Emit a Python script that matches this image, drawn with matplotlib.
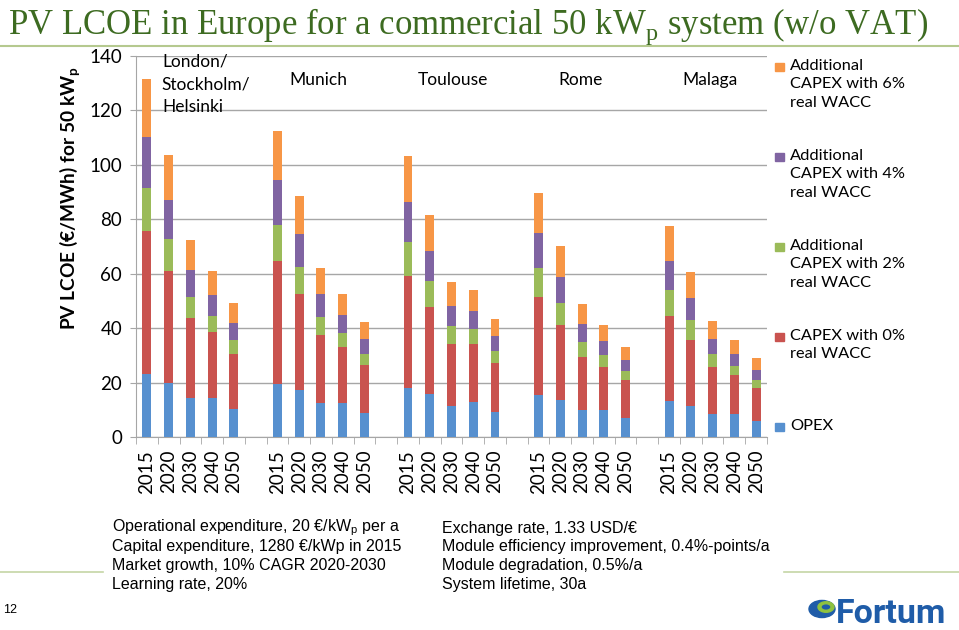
import matplotlib.pyplot as plt
import numpy as np
from matplotlib.patches import Rectangle, Circle, Wedge
from matplotlib.lines import Line2D

# data (EUR/MWh), stacked from bottom to top
cities = ['London/\nStockholm/\nHelsinki', 'Munich', 'Toulouse', 'Rome', 'Malaga']
years = ['2015', '2020', '2030', '2040', '2050']

opex = [[23.2, 20.1, 14.6, 14.6, 10.4],
        [19.5, 17.3, 12.5, 12.5, 9.0],
        [18.1, 15.9, 11.6, 12.9, 9.3],
        [15.6, 13.7, 10.0, 10.0, 7.1],
        [13.5, 11.6, 8.5, 8.5, 6.1]]
capex0 = [[52.4, 40.9, 29.2, 23.9, 20.3],
          [45.1, 35.2, 24.9, 20.5, 17.5],
          [41.0, 32.1, 22.6, 21.3, 17.9],
          [35.8, 27.6, 19.5, 15.9, 13.8],
          [30.9, 24.0, 17.2, 14.2, 11.9]]
add2 = [[16.0, 11.9, 7.8, 6.1, 5.2],
        [13.5, 10.1, 6.9, 5.3, 4.1],
        [12.5, 9.5, 6.5, 5.5, 4.5],
        [10.7, 8.0, 5.4, 4.4, 3.3],
        [9.5, 7.3, 4.8, 3.6, 3.0]]
add4 = [[18.6, 14.3, 9.9, 7.7, 6.1],
        [16.2, 12.2, 8.4, 6.5, 5.4],
        [14.7, 11.0, 7.4, 6.7, 5.5],
        [13.0, 9.7, 6.6, 4.9, 4.1],
        [11.0, 8.3, 5.7, 4.4, 3.6]]
add6 = [[21.5, 16.3, 10.9, 8.7, 7.3],
        [18.3, 13.8, 9.4, 7.7, 6.2],
        [16.8, 13.1, 8.9, 7.8, 6.4],
        [14.5, 11.1, 7.5, 6.2, 5.0],
        [12.7, 9.5, 6.6, 5.2, 4.4]]

series = [opex, capex0, add2, add4, add6]
series_labels = ['OPEX', 'CAPEX with 0%\nreal WACC',
                 'Additional\nCAPEX with 2%\nreal WACC',
                 'Additional\nCAPEX with 4%\nreal WACC',
                 'Additional\nCAPEX with 6%\nreal WACC']
colors = ['#5790cf', '#c9534f', '#9bbb59', '#8064a2', '#f79646']

notes_left = ['Operational expenditure, 20 €/kW$_\\mathregular{p}$ per a',
              'Capital expenditure, 1280 €/kWp in 2015',
              'Market growth, 10% CAGR 2020-2030',
              'Learning rate, 20%']
notes_right = ['Exchange rate, 1.33 USD/€',
               'Module efficiency improvement, 0.4%-points/a',
               'Module degradation, 0.5%/a',
               'System lifetime, 30a']

W, H = 959, 630
fig = plt.figure(figsize=(W / 100, H / 100), dpi=100)
ax = fig.add_axes([136 / W, 1 - 437.3 / H, (767 - 136) / W, (437.3 - 56) / H])

sans = 'Lato'

# bar positions: 5 per city, one empty slot between cities
pos = []
for g in range(len(cities)):
    pos.append([g * 6 + j for j in range(len(years))])
pos = np.array(pos)

bottom = np.zeros((len(cities), len(years)))
for s, c in zip(series, colors):
    vals = np.array(s)
    for g in range(len(cities)):
        ax.bar(pos[g], vals[g], width=0.41, bottom=bottom[g], color=c, zorder=3)
    bottom += vals

ax.set_xlim(-0.5, 28.5)
ax.set_ylim(0, 140)
ax.set_yticks(range(0, 141, 20))
ax.yaxis.grid(True, color='#a6a6a6', linewidth=1.0, zorder=0)
ax.tick_params(axis='y', length=4, color='#a6a6a6', labelsize=13.5, pad=6)
for lab in ax.get_yticklabels():
    lab.set_fontfamily(sans)

ax.set_xticks(pos.flatten())
ax.set_xticklabels(years * len(cities), rotation=90, fontsize=13.5, fontfamily=sans)
ax.set_xticks(np.arange(-0.5, 29, 1), minor=True)
ax.tick_params(axis='x', which='major', length=0, pad=9)
ax.tick_params(axis='x', which='minor', length=5, color='#a6a6a6')

for side in ['top', 'right']:
    ax.spines[side].set_visible(False)
for side in ['left', 'bottom']:
    ax.spines[side].set_color('#a6a6a6')

# city names inside the plot
ax.text(0.69, 137.8, 'London/', fontsize=12.5, fontfamily=sans, va='center')
ax.text(0.69, 129.4, 'Stockholm/', fontsize=12.5, fontfamily=sans, va='center')
ax.text(0.69, 121.3, 'Helsinki', fontsize=12.5, fontfamily=sans, va='center')
city_x = [7.86, 14.07, 19.95, 25.88]
for name, cx in zip(cities[1:], city_x):
    ax.text(cx, 131.2, name, fontsize=12.5, fontfamily=sans, ha='center', va='center')

# y label
fig.text(70 / W, 1 - 198 / H, 'PV LCOE (€/MWh) for 50 kW$_\\mathregular{p}$', rotation=90,
         fontsize=13.8, fontweight='bold', fontfamily=sans, ha='center', va='center')

# legend on the right, top entry first
for i, (lab, c) in enumerate(zip(series_labels[::-1], colors[::-1])):
    ytop = 62.7 + i * 90
    fig.patches.append(Rectangle((775 / W, 1 - (ytop + 8) / H), 8.5 / W, 8 / H,
                                 color=c, transform=fig.transFigure, figure=fig))
    fig.text(790 / W, 1 - (ytop - 4) / H, lab, fontsize=11.8, fontfamily=sans,
             va='top', linespacing=1.42)

# title and header rule
fig.text(8 / W, 1 - 34 / H, 'PV LCOE in Europe for a commercial 50 kW$_\\mathregular{p}$ system (w/o VAT)',
         fontsize=25, fontfamily='Liberation Serif', color='#3d6b21', va='baseline')
fig.add_artist(Line2D([0, 1], [1 - 46 / H, 1 - 46 / H], color='#b5c98f', linewidth=1.5,
                      transform=fig.transFigure))

# assumptions text
for i, t in enumerate(notes_left):
    fig.text(112 / W, 1 - (528 + i * 18.8) / H, t, fontsize=11.5, fontfamily='Liberation Sans', va='center')
for i, t in enumerate(notes_right):
    fig.text(442 / W, 1 - (528 + i * 18.8) / H, t, fontsize=11.5, fontfamily='Liberation Sans', va='center')

fig.add_artist(Line2D([0, 103 / W], [1 - 572 / H] * 2, color='#c5d6a6', linewidth=1.2,
                      transform=fig.transFigure))
fig.add_artist(Line2D([784 / W, 1], [1 - 572 / H] * 2, color='#c5d6a6', linewidth=1.2,
                      transform=fig.transFigure))

fig.text(3 / W, 1 - 610 / H, '12', fontsize=9, fontfamily='Liberation Sans', va='center')

# Fortum logo
fig.text(836 / W, 1 - 623 / H, 'Fortum', fontsize=24.5, fontweight='bold', fontfamily='Roboto',
         color='#1f5ca8', va='baseline')
fig.add_artist(Circle((822 / W, 1 - 609 / H), 13 / W, color='#1f5ca8', transform=fig.transFigure))
fig.add_artist(Wedge((826 / W, 1 - 607 / H), 8 / W, 0, 360, width=3 / W, color='#8fc23f',
                     transform=fig.transFigure))

fig.savefig('out.png', dpi=100)
